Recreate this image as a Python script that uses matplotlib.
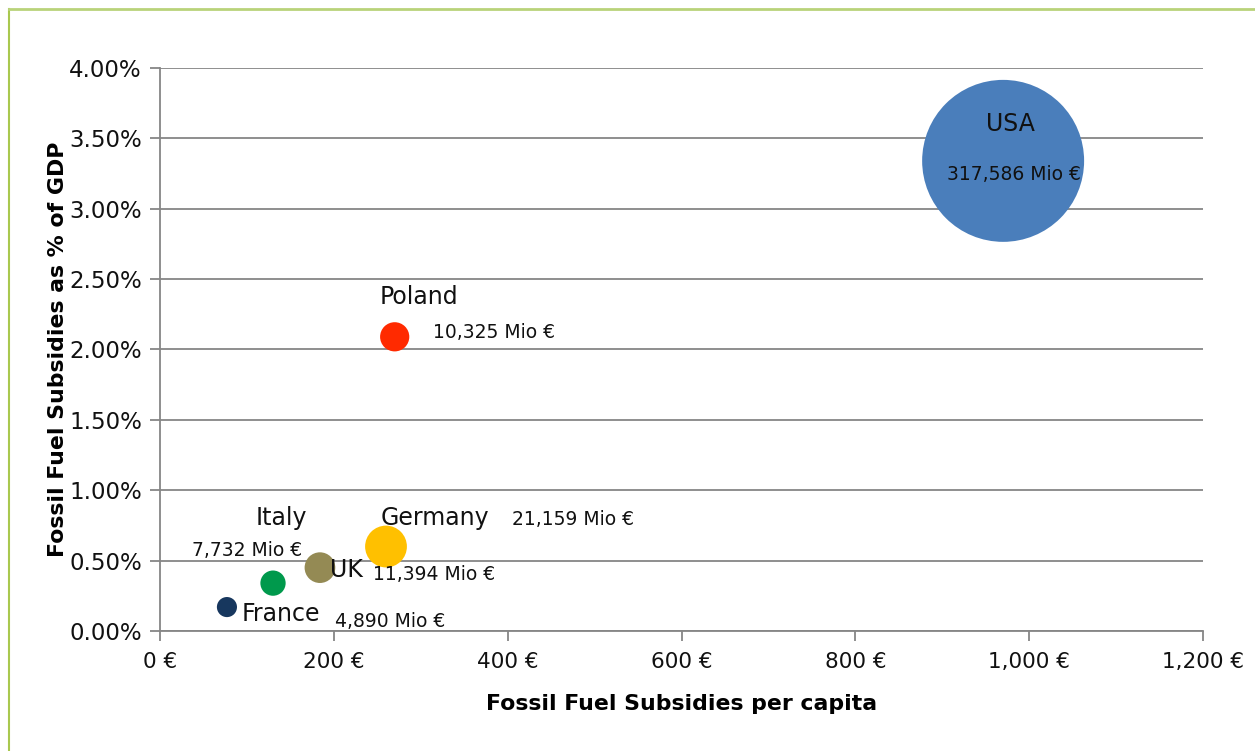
import matplotlib.pyplot as plt
from matplotlib.lines import Line2D
from matplotlib.ticker import FuncFormatter

# data
countries = ['USA', 'Poland', 'Germany', 'UK', 'Italy', 'France']
per_capita = [970, 270, 260, 184, 130, 77]          # EUR per capita
pct_gdp = [3.34, 2.09, 0.60, 0.45, 0.34, 0.17]      # % of GDP
total_mio = [317586, 10325, 21159, 11394, 7732, 4890]  # Mio EUR
colors = ['#4a7ebb', '#ff2a00', '#ffc000', '#948a54', '#00994c', '#17375e']

x_ticks = [0, 200, 400, 600, 800, 1000, 1200]
y_ticks = [0, 0.5, 1.0, 1.5, 2.0, 2.5, 3.0, 3.5, 4.0]

# label placement (data coords): name pos, value pos, value alignment
name_pos = {'USA': (978, 3.60, 'center'), 'Poland': (298, 2.37, 'center'),
            'Germany': (316, 0.80, 'center'), 'UK': (196, 0.43, 'left'),
            'Italy': (140, 0.80, 'center'), 'France': (94, 0.12, 'left')}
val_pos = {'USA': (982, 3.24, 'center'), 'Poland': (314, 2.12, 'left'),
           'Germany': (405, 0.79, 'left'), 'UK': (245, 0.40, 'left'),
           'Italy': (164, 0.575, 'right'), 'France': (201, 0.07, 'left')}

plt.rcParams['font.family'] = ['DejaVu Sans']

fig = plt.figure(figsize=(12.55, 7.51), dpi=100)
ax = fig.add_axes([0.1275, 0.1598, 0.8311, 0.7497])

# bubble area proportional to total subsidies (USA diameter ~162 px)
scale = 13600 / 317586
sizes = [v * scale for v in total_mio]
ax.scatter(per_capita, pct_gdp, s=sizes, c=colors, zorder=3, linewidths=0)

for i, c in enumerate(countries):
    nx, ny, nha = name_pos[c]
    ax.text(nx, ny, c, ha=nha, va='center', fontsize=17, color='#111111', zorder=4)
    vx, vy, vha = val_pos[c]
    ax.text(vx, vy, f'{total_mio[i]:,} Mio €', ha=vha, va='center',
            fontsize=13.5, color='#111111', zorder=4)

ax.set_xlim(0, 1200)
ax.set_ylim(0, 4.0)
ax.set_xticks(x_ticks)
ax.set_yticks(y_ticks)
ax.xaxis.set_major_formatter(FuncFormatter(lambda v, p: f'{int(v):,} €'))
ax.yaxis.set_major_formatter(FuncFormatter(lambda v, p: f'{v:.2f}%'))
ax.tick_params(axis='both', colors='#868686', labelcolor='#111111',
               length=7, width=1.3)
ax.tick_params(axis='x', pad=8, labelsize=15.5)
ax.tick_params(axis='y', pad=6, labelsize=16.5)

ax.grid(axis='y', color='#868686', linewidth=1.3)
ax.set_axisbelow(True)
for s in ['top', 'right']:
    ax.spines[s].set_visible(False)
for s in ['left', 'bottom']:
    ax.spines[s].set_color('#868686')
    ax.spines[s].set_linewidth(1.3)

ax.set_xlabel('Fossil Fuel Subsidies per capita', fontsize=15.8, fontweight='bold', labelpad=16)
ax.set_ylabel('Fossil Fuel Subsidies as % of GDP', fontsize=15.8, fontweight='bold', labelpad=1)

# green frame on left and top of figure
fig.add_artist(Line2D([0.0072, 0.0072], [0, 0.988], transform=fig.transFigure,
                      color='#a9c84f', linewidth=1.5))
fig.add_artist(Line2D([0.0072, 1.0], [0.988, 0.988], transform=fig.transFigure,
                      color='#b9d37a', linewidth=2))

fig.savefig('out.png', dpi=100)
